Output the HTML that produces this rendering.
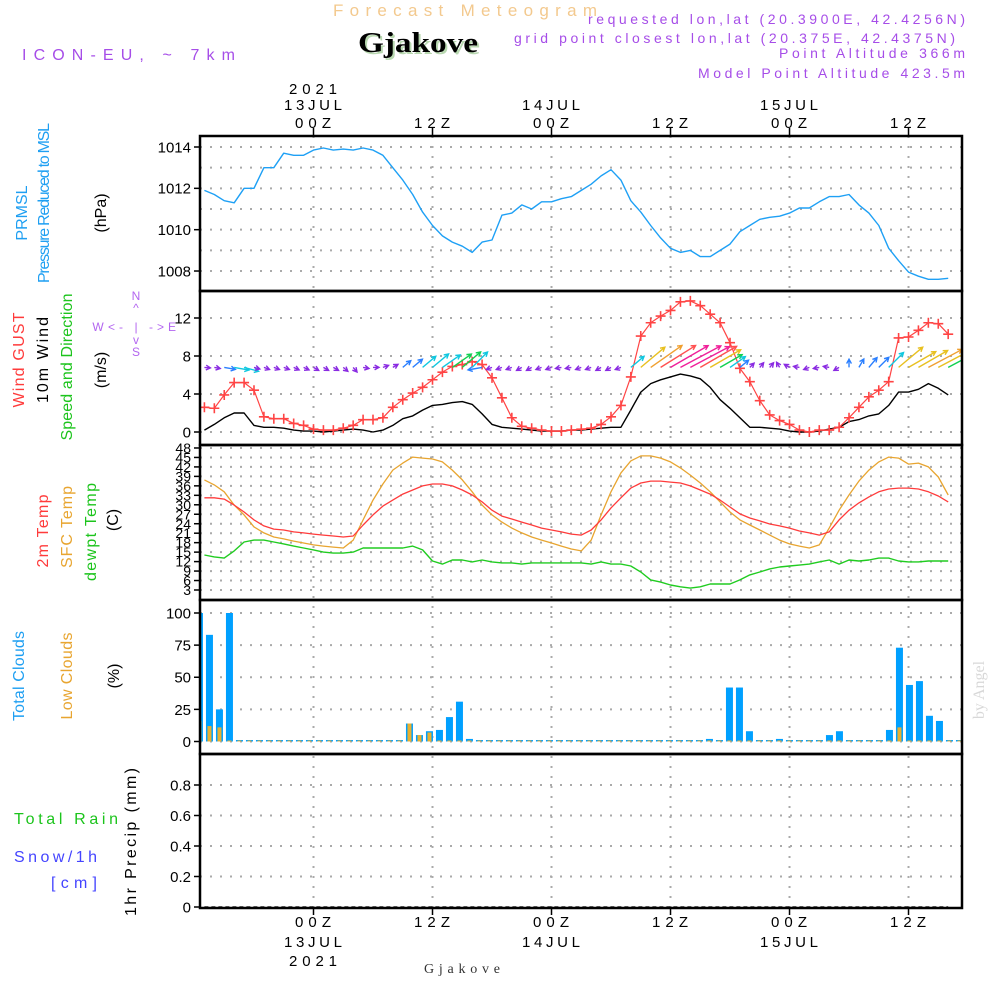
<!DOCTYPE html>
<html><head><meta charset="utf-8">
<style>
html,body{margin:0;padding:0;background:#fff;}
svg{display:block;font-family:"Liberation Sans",sans-serif;}
.tick{font-size:15px;fill:#000;}
</style></head>
<body>
<svg id="chart" width="1000" height="1000" viewBox="0 0 1000 1000" xmlns="http://www.w3.org/2000/svg">
<rect x="0" y="0" width="1000" height="1000" fill="#fff"/>
<text x="465" y="16" font-size="17" fill="#f3c98e" text-anchor="middle" textLength="264" lengthAdjust="spacing">Forecast Meteogram</text>
<text x="418" y="52" font-size="28" font-weight="bold" font-family="Liberation Serif, serif" fill="#b8d8b0" text-anchor="middle" textLength="120" lengthAdjust="spacingAndGlyphs" transform="translate(2,2)">Gjakove</text>
<text x="418" y="52" font-size="28" font-weight="bold" font-family="Liberation Serif, serif" fill="#000" text-anchor="middle" textLength="120" lengthAdjust="spacingAndGlyphs">Gjakove</text>
<text x="22" y="60" font-size="16" fill="#a64de8" textLength="213" lengthAdjust="spacing">ICON-EU, ~ 7km</text>
<text x="965" y="24" font-size="14" fill="#a64de8" text-anchor="end" textLength="377" lengthAdjust="spacing">requested lon,lat (20.3900E, 42.4256N)</text>
<text x="955" y="43" font-size="14" fill="#a64de8" text-anchor="end" textLength="441" lengthAdjust="spacing">grid point closest lon,lat (20.375E, 42.4375N)</text>
<text x="965" y="58" font-size="14" fill="#a64de8" text-anchor="end" textLength="186" lengthAdjust="spacing">Point Altitude 366m</text>
<text x="965" y="78" font-size="14" fill="#a64de8" text-anchor="end" textLength="267" lengthAdjust="spacing">Model Point Altitude 423.5m</text>
<g class="tick" text-anchor="middle">
<text x="313" y="94" textLength="48" lengthAdjust="spacing">2021</text>
<text x="313" y="110" textLength="58" lengthAdjust="spacing">13JUL</text>
<text x="313" y="128" textLength="36" lengthAdjust="spacing">00Z</text>
<text x="432" y="128" textLength="36" lengthAdjust="spacing">12Z</text>
<text x="551" y="110" textLength="58" lengthAdjust="spacing">14JUL</text>
<text x="551" y="128" textLength="36" lengthAdjust="spacing">00Z</text>
<text x="670" y="128" textLength="36" lengthAdjust="spacing">12Z</text>
<text x="789" y="110" textLength="58" lengthAdjust="spacing">15JUL</text>
<text x="789" y="128" textLength="36" lengthAdjust="spacing">00Z</text>
<text x="908" y="128" textLength="36" lengthAdjust="spacing">12Z</text>
</g>
<g class="tick" text-anchor="middle">
<text x="313" y="927" textLength="36" lengthAdjust="spacing">00Z</text>
<text x="313" y="947" textLength="58" lengthAdjust="spacing">13JUL</text>
<text x="313" y="966" textLength="48" lengthAdjust="spacing">2021</text>
<text x="432" y="927" textLength="36" lengthAdjust="spacing">12Z</text>
<text x="551" y="927" textLength="36" lengthAdjust="spacing">00Z</text>
<text x="551" y="947" textLength="58" lengthAdjust="spacing">14JUL</text>
<text x="670" y="927" textLength="36" lengthAdjust="spacing">12Z</text>
<text x="789" y="927" textLength="36" lengthAdjust="spacing">00Z</text>
<text x="789" y="947" textLength="58" lengthAdjust="spacing">15JUL</text>
<text x="908" y="927" textLength="36" lengthAdjust="spacing">12Z</text>
</g>
<text x="462" y="973" font-size="14" font-family="Liberation Serif, serif" fill="#333" text-anchor="middle" textLength="76" lengthAdjust="spacing">Gjakove</text>
<text transform="translate(984,690) rotate(-90)" font-size="16" font-family="Liberation Serif, serif" fill="#d8d8d8" text-anchor="middle">by Angel</text>
<g font-size="16" text-anchor="middle">
<text transform="translate(27,213) rotate(-90)" fill="#1e9ff2">PRMSL</text>
<text transform="translate(49,203) rotate(-90)" fill="#1e9ff2" textLength="160" lengthAdjust="spacing">Pressure Reduced to MSL</text>
<text transform="translate(106,213) rotate(-90)" fill="#000">(hPa)</text>
<text transform="translate(24,360) rotate(-90)" fill="#ff3b3b" textLength="95" lengthAdjust="spacing">Wind GUST</text>
<text transform="translate(48,360) rotate(-90)" fill="#000" textLength="86" lengthAdjust="spacing">10m Wind</text>
<text transform="translate(72,367) rotate(-90)" fill="#1cc41c" textLength="147" lengthAdjust="spacing">Speed and Direction</text>
<text transform="translate(106,370) rotate(-90)" fill="#000">(m/s)</text>
<text transform="translate(48,531) rotate(-90)" fill="#ff3b3b" textLength="73" lengthAdjust="spacing">2m Temp</text>
<text transform="translate(72,527) rotate(-90)" fill="#e8a530" textLength="82" lengthAdjust="spacing">SFC Temp</text>
<text transform="translate(96,532) rotate(-90)" fill="#1cc41c" textLength="98" lengthAdjust="spacing">dewpt Temp</text>
<text transform="translate(118,520) rotate(-90)" fill="#000">(C)</text>
<text transform="translate(24,676) rotate(-90)" fill="#1e9ff2" textLength="90" lengthAdjust="spacing">Total Clouds</text>
<text transform="translate(72,676) rotate(-90)" fill="#e8a530" textLength="87" lengthAdjust="spacing">Low Clouds</text>
<text transform="translate(119,676) rotate(-90)" fill="#000">(%)</text>
<text transform="translate(136,842) rotate(-90)" fill="#000" textLength="148" lengthAdjust="spacing">1hr Precip (mm)</text>
</g>
<text x="14" y="824" font-size="16" fill="#1cc41c" textLength="104" lengthAdjust="spacing">Total  Rain</text>
<text x="14" y="862" font-size="16" fill="#4444ff" textLength="83" lengthAdjust="spacing">Snow/1h</text>
<text x="51" y="888" font-size="16" fill="#4444ff" textLength="46" lengthAdjust="spacing">[cm]</text>
<g font-size="12" fill="#b366f0" text-anchor="middle">
<text x="136" y="300">N</text>
<text x="136" y="312">^</text>
<text x="98" y="331">W</text>
<text x="136" y="331" textLength="56" lengthAdjust="spacing">&lt;- | -&gt;</text>
<text x="172" y="331">E</text>
<text x="136" y="344">v</text>
<text x="136" y="356">S</text>
</g>
<g id="plot"></g>
</svg>
<script>
const startHour = -11;
const pressure = [1011.9,1011.7,1011.4,1011.3,1012.0,1012.0,1013.0,1013.0,1013.7,1013.6,
1013.6,1013.85,1013.95,1013.85,1013.9,1013.85,1013.95,1013.85,1013.6,1013.0,
1012.4,1011.7,1010.85,1010.2,1009.7,1009.4,1009.2,1008.9,1009.4,1009.5,
1010.7,1010.8,1011.2,1011.0,1011.35,1011.35,1011.5,1011.6,1011.9,1012.2,
1012.6,1012.9,1012.4,1011.4,1010.85,1010.2,1009.6,1009.1,1008.9,1009.0,
1008.7,1008.7,1009.0,1009.3,1009.9,1010.2,1010.5,1010.6,1010.65,1010.8,
1011.05,1011.05,1011.35,1011.6,1011.6,1011.7,1011.2,1010.8,1010.2,1009.1,
1008.5,1007.95,1007.75,1007.6,1007.6,1007.65];
const windGust = [2.6,2.5,3.9,5.2,5.2,4.4,1.6,1.4,1.4,0.9,
0.7,0.3,0.2,0.2,0.4,0.7,1.3,1.3,1.5,2.6,
3.4,4.1,4.7,5.5,6.3,6.9,7.1,7.4,7.1,5.7,
3.6,1.5,0.6,0.4,0.2,0.1,0.1,0.2,0.3,0.4,
0.8,1.6,2.8,5.8,10.1,11.5,12.2,12.8,13.7,13.8,
13.3,12.4,11.5,9.4,6.7,5.3,3.3,1.8,1.2,0.8,
0.2,0,0.2,0.2,0.5,1.5,2.6,3.7,4.4,5.3,
9.9,10,10.7,11.5,11.4,10.3];
const windSpeed = [0.2,0.8,1.5,2.0,2.0,0.7,0.5,0.5,0.4,0.2,
0.1,0.1,0,0.1,0.2,0.3,0.2,0,0.2,0.7,
1.4,1.7,2.3,2.8,2.9,3.1,3.2,2.9,1.9,0.8,
0.5,0.4,0.3,0.2,0.1,0.1,0.1,0.2,0.2,0.3,
0.4,0.5,0.5,2.3,4.2,5.1,5.5,5.8,6.1,5.9,
5.6,4.7,3.4,2.5,1.5,0.5,0.5,0.4,0.3,0.1,
0,0,0.1,0.3,0.5,1.1,1.3,1.7,1.9,2.8,
4.2,4.2,4.5,5.1,4.6,3.9];
const windToDir = [-5,-10,-10,-10,-15,-15,-20,-20,-20,-25,-25,
-30,-30,-30,-40,-50,-10,0,20,30,
40,40,40,40,35,35,40,45,
190,200,200,200,210,210,200,200,190,190,200,200,210,210,200,
40,40,35,32,30,28,28,30,30,30,
35,40,45,50,50,
120,150,170,-160,-170,170,-150,90,
60,50,45,45,40,30,30,28,28,28];
const temp2m = [32.2,32.2,31.8,29.9,27.7,25.2,23.3,22.3,22.0,21.4,
21.1,20.7,20.4,20.1,19.8,20.1,23.6,26.8,29.6,31.5,
33.4,34.7,36.0,36.6,36.6,36.0,34.7,33.1,30.9,28.3,
26.4,25.5,24.5,23.6,22.6,22.0,21.4,20.7,20.4,22.0,
25.2,29.0,32.2,35.3,36.9,37.5,37.5,37.2,36.9,36.0,
34.7,33.4,31.5,29.3,27.1,25.8,24.9,23.9,23.3,22.6,
21.7,21.1,20.4,21.4,25.2,28.3,30.6,32.5,34.1,35.0,
35.3,35.3,35.0,34.1,32.8,30.9];
const tempSfc = [37.9,36.3,34.1,29.9,26.8,23.0,21.1,19.8,19.2,18.5,
17.9,17.3,16.9,16.6,16.3,18.8,25.2,31.5,36.6,41.0,
43.2,45.1,44.8,44.5,43.6,41.0,37.9,34.1,29.9,26.8,
24.5,22.6,21.1,19.8,18.8,17.9,16.9,16.0,15.4,18.8,
26.8,34.1,40.1,43.9,45.5,45.5,44.8,43.6,41.7,39.4,
36.9,34.1,30.9,27.7,25.2,23.6,22.0,20.4,18.8,17.6,
16.9,16.3,17.3,22.6,28.3,33.1,37.5,41.0,43.6,45.1,
44.8,42.9,43.2,42.0,38.8,33.1];
const dewpoint = [14.1,13.5,13.1,15.4,18.2,18.8,18.8,18.2,17.6,16.9,
16.3,15.7,15.0,14.7,14.7,15.0,16.3,16.3,16.3,16.3,
16.3,16.9,15.7,12.2,11.2,12.5,12.5,11.9,12.5,11.9,
11.6,11.6,11.2,11.6,11.6,11.6,11.6,11.6,11.6,11.2,
11.9,11.2,11.2,10.6,8.7,6.2,5.5,4.6,4.0,3.6,
4.0,4.9,4.9,4.9,6.2,7.8,8.7,9.7,10.3,10.6,
10.9,11.2,11.9,12.5,11.2,12.5,12.2,12.5,13.1,13.1,
12.2,11.9,11.9,12.2,12.2,12.2];
const cloudStart = -11.5;
const totalClouds = [100,83,25,100,0,0,0,0,0,0,0,0,0,0,0,0,0,0,0,0,0,
14,5,8,9,19,31,2,
0,0,0,0,0,0,0,0,0,0,0,0,0,0,0,0,0,0,0,0,0,0,0,
2,0,42,42,8,0,0,2,0,0,0,0,5,8,0,0,0,0,9,73,44,47,20,16,0,1];
const lowClouds = [16,12,11,0,0,0,0,0,0,0,0,0,0,0,0,0,0,0,0,0,0,
14,5,7,0,0,0,0,
0,0,0,0,0,0,0,0,0,0,0,0,0,0,0,0,0,0,0,0,0,0,0,
0,0,0,0,0,0,0,0,0,0,0,0,0,0,0,0,0,0,0,11,0,0,0,0,0,0];
const precip = [0,0,0,0,0,0,0,0,0,0,0,0,0,0,0,0,0,0,0,0,0,0,0,0,0,0,0,0,0,0,0,0,0,0,0,0,0,0,0,0,0,0,0,0,0,0,0,0,0,0,0,0,0,0,0,0,0,0,0,0,0,0,0,0,0,0,0,0,0,0,0,0,0,0,0,0];
const pressureTicks = [1014,1012,1010,1008];
const pressureGrid = [1014,1013,1012,1011,1010,1009,1008];
const windTicks = [0,4,8,12];
const tempTicks = [3,6,9,12,15,18,21,24,27,30,33,36,39,42,45,48];
const cloudTicks = [0,25,50,75,100];
const precipTicks = [0,0.2,0.4,0.6,0.8];
const timeTicks = [0,12,24,36,48,60];

const X0 = 313.5, PXH = 9.917;
const xs = t => X0 + t * PXH;
const yP = p => 147 + (1014 - p) * 20.67;
const yW = v => 432 - v * 9.5;
const yT = v => 590 - (v - 3) * 3.156;
const yC = v => 741.5 - v * 1.285;
const yR = v => 907 - v * 152.5;
const L = 200, R = 962;
const panels = [[136,291,'pressure'],[291,445,'wind'],[445,600,'temp'],[600,754,'clouds'],[754,908,'precip']];
const NS = 'http://www.w3.org/2000/svg';
const plot = document.getElementById('plot');
function mk(tag, attrs, parent) {
  const e = document.createElementNS(NS, tag);
  for (const k in attrs) e.setAttribute(k, attrs[k]);
  (parent || plot).appendChild(e);
  return e;
}
const defs = mk('defs', {});
panels.forEach(([t, b, n]) => {
  const cp = mk('clipPath', {id: 'clip-' + n}, defs);
  mk('rect', {x: L, y: t, width: R - L, height: b - t}, cp);
});
function grp(name, clip) {
  const g = mk('g', clip ? {'clip-path': 'url(#clip-' + clip + ')'} : {});
  
  
  return g;
}
const grid = grp('grid-lines', null);
function hgrid(y) {
  const l = mk('line', {x1: L, x2: R, y1: y, y2: y, stroke: '#aaa', 'stroke-width': 2, 'stroke-dasharray': '2 8'}, grid);
  
  
}
pressureGrid.forEach(v => hgrid(yP(v)));
windTicks.forEach(v => hgrid(yW(v)));
tempTicks.forEach(v => hgrid(yT(v)));
cloudTicks.forEach(v => hgrid(yC(v)));
precipTicks.forEach(v => { if (v > 0) hgrid(yR(v)); });
timeTicks.forEach(t => {
  const l = mk('line', {x1: xs(t), x2: xs(t), y1: 136, y2: 908, stroke: '#aaa', 'stroke-width': 2, 'stroke-dasharray': '2 8'}, grid);
  
  
  const tt = mk('line', {x1: xs(t), x2: xs(t), y1: 128, y2: 136, stroke: '#000', 'stroke-width': 1.5}, grid);
  
  
  const tb = mk('line', {x1: xs(t), x2: xs(t), y1: 908, y2: 915, stroke: '#000', 'stroke-width': 1.5}, grid);
  
  
});
const ylab = grp('y-axis-labels', null);
function ytick(y, label, size, name) {
  const tk = mk('line', {x1: 194, x2: L, y1: y, y2: y, stroke: '#000', 'stroke-width': 1.5}, ylab);
  
  
  const tx = mk('text', {x: 191, y: y + size * 0.36, 'text-anchor': 'end', 'font-size': size, fill: '#000'}, ylab);
  tx.textContent = label;
  
  
}
pressureTicks.forEach(v => ytick(yP(v), String(v), 15, 'pressure-axis'));
windTicks.forEach(v => ytick(yW(v), String(v), 15, 'wind-axis'));
tempTicks.forEach(v => ytick(yT(v), String(v), 14, 'temp-axis'));
cloudTicks.forEach(v => ytick(yC(v), String(v), 15, 'clouds-axis'));
precipTicks.forEach(v => ytick(yR(v), v === 0 ? '0' : v.toFixed(1), 15, 'precip-axis'));

function line(arr, x0, yf, color, width, parent, name) {
  const pts = arr.map((v, i) => xs(x0 + i).toFixed(1) + ',' + yf(v).toFixed(1)).join(' ');
  const pl = mk('polyline', {points: pts, fill: 'none', stroke: color, 'stroke-width': width, 'stroke-linejoin': 'round'}, parent);
  
  
  return pl;
}
const gP = grp('pressure-panel-series', 'pressure');
line(pressure, startHour, yP, '#1ea0f5', 1.4, gP, 'prmsl-line');
const gW = grp('wind-panel-series', 'wind');
line(windSpeed, startHour, yW, '#000', 1.4, gW, 'wind-speed-line');
line(windGust, startHour, yW, '#ff4444', 1.2, gW, 'wind-gust-line');
windGust.forEach((v, i) => {
  const x = xs(startHour + i), y = yW(v);
  const m = mk('path', {d: `M${x-5},${y}H${x+5}M${x},${y-5}V${y+5}`, stroke: '#ff4444', 'stroke-width': 1.6}, gW);
  
  
});
function windColor(s) {
  if (s < 1) return '#8a2be2';
  if (s < 2) return '#2a7fff';
  if (s < 3) return '#10c8e0';
  if (s < 4) return '#10d050';
  if (s < 4.8) return '#e8c020';
  if (s < 5.3) return '#f0a030';
  if (s < 5.7) return '#ff5050';
  return '#f0209a';
}
windSpeed.forEach((s, i) => {
  const x = xs(startHour + i), y = yW(6.8);
  const len = Math.max(6, s * 7.5);
  const a = windToDir[i] * Math.PI / 180;
  const x2 = x + len * Math.cos(a), y2 = y - len * Math.sin(a);
  const h = 5, b1 = a + Math.PI - 0.5, b2 = a + Math.PI + 0.5;
  const d = `M${x},${y}L${x2},${y2}M${x2 + h*Math.cos(b1)},${y2 - h*Math.sin(b1)}L${x2},${y2}L${x2 + h*Math.cos(b2)},${y2 - h*Math.sin(b2)}`;
  const ar = mk('path', {d: d, fill: 'none', stroke: windColor(s), 'stroke-width': 1.4}, gW);
  
  
});
const gT = grp('temp-panel-series', 'temp');
line(tempSfc, startHour, yT, '#e8a530', 1.3, gT, 'sfc-temp-line');
line(temp2m, startHour, yT, '#ff3b3b', 1.3, gT, 'temp-2m-line');
line(dewpoint, startHour, yT, '#20cc20', 1.4, gT, 'dewpoint-line');
const gC = grp('clouds-panel-series', 'clouds');
const CSTEP = 10 / PXH;
totalClouds.forEach((v, i) => {
  const x = xs(cloudStart + i * CSTEP);
  const y = yC(v);
  const b = mk('rect', {x: x - 3.5, y: Math.min(y, 740), width: 7, height: Math.max(741.5 - y, 1.5), fill: '#00a0ff'}, gC);
  
  
});
lowClouds.forEach((v, i) => {
  const x = xs(cloudStart + i * CSTEP);
  const y = yC(v);
  const b = mk('rect', {x: x - 2, y: Math.min(y, 740.5), width: 4, height: Math.max(741.5 - y, 1), fill: '#e8b030'}, gC);
  
  
});
const gR = grp('precip-panel-series', 'precip');
const pl = line(precip, startHour, yR, '#222', 1.5, gR, 'precip-line');
pl.setAttribute('stroke-dasharray', '4 3');
const fr = grp('panel-frames', null);
panels.forEach(([t, b, n]) => {
  const r = mk('rect', {x: L, y: t, width: R - L, height: b - t, fill: 'none', stroke: '#000', 'stroke-width': 2.5}, fr);
  
  
});
</script>
</body></html>
